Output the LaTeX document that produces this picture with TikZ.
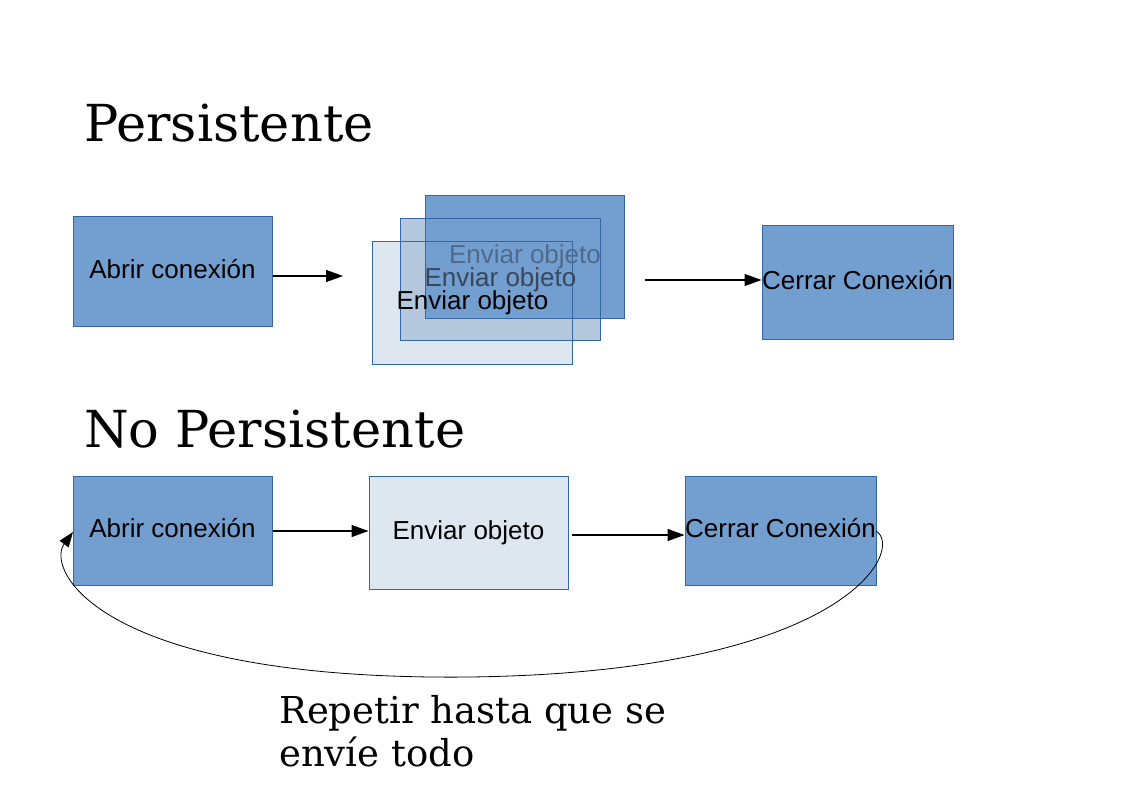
\documentclass[tikz,border=0pt]{standalone}
\usepackage{fontspec}
\setmainfont{Liberation Sans}
\newfontfamily\titlefont{DejaVu Serif}
\usetikzlibrary{arrows.meta}
\definecolor{boxdark}{HTML}{729FCF}
\definecolor{boxmid}{HTML}{B4C7DC}
\definecolor{boxlight}{HTML}{DEE6EF}
\definecolor{boxline}{HTML}{3465A4}
\definecolor{ghostA}{HTML}{51698A}
\definecolor{ghostB}{HTML}{38475B}
\tikzset{
  boxfont/.style={font=\fontsize{26}{30}\selectfont, text height=19pt, text depth=6pt},
  box/.style={draw=boxline, line width=1pt, inner sep=0pt, boxfont},
  darkbox/.style={box, fill=boxdark},
  lightbox/.style={box, fill=boxlight},
  plain/.style={inner sep=0pt, boxfont},
  flow/.style={line width=1.1pt, -{Triangle[length=17pt,width=12pt]}},
  title/.style={font=\titlefont\fontsize{51}{60}\selectfont, anchor=base west, inner sep=0pt},
  note/.style={font=\titlefont\fontsize{37}{43}\selectfont, anchor=north west, inner sep=0pt, align=left},
}
\begin{document}
\begin{tikzpicture}[x=1pt,y=-1pt]
\useasboundingbox[fill=white] (0,0) rectangle (1123,794);

% titles
\node[title] (t1) at (84,142) {Persistente};
\node[title] (t2) at (84,447.5) {No Persistente};

% ---- persistent row
\node[darkbox, minimum width=199pt, minimum height=109pt] (a1) at (172.5,271.5) {Abrir conexi\'on};

\node[box, draw=none, fill=boxlight, minimum width=199pt, minimum height=122pt] (s3) at (472.5,303) {};
\node[box, draw=none, fill=boxmid, minimum width=199pt, minimum height=121pt] (s2) at (500.5,279.5) {};
\node[box, draw=none, fill=boxdark, minimum width=198pt, minimum height=122pt] (s1) at (525,257) {};
\draw[boxline, line width=1pt] (s1.north west) rectangle (s1.south east);
\draw[boxline, line width=1pt] (s2.north west) rectangle (s2.south east);
\draw[boxline, line width=1pt] (s3.north west) rectangle (s3.south east);
\node[plain, text=ghostA] (s1t) at (s1.center) {Enviar objeto};
\node[plain, text=ghostB] (s2t) at (s2.center) {Enviar objeto};
\node[plain] (s3t) at (s3.center) {Enviar objeto};

\node[darkbox, minimum width=191pt, minimum height=113pt] (c1) at (857.5,282.5) {Cerrar Conexi\'on};

\coordinate (p1) at (343,276);
\draw[flow] (a1.east |- p1) -- (p1);
\coordinate (p2a) at (645,280);
\draw[flow] (p2a) -- (c1.west |- p2a) ;

% ---- non persistent row
\node[darkbox, minimum width=199pt, minimum height=109pt] (a2) at (172.5,530.5) {Abrir conexi\'on};
\node[lightbox, minimum width=199pt, minimum height=113pt] (e2) at (468.5,532.5) {Enviar objeto};
\node[darkbox, minimum width=191pt, minimum height=109pt] (c2) at (780.5,530.5) {Cerrar Conexi\'on};

\coordinate (q1) at (273,531);
\draw[flow] (q1) -- (e2.west |- q1);
\coordinate (q2) at (572,535);
\draw[flow] (q2) -- (c2.west |- q2);

% loop back
\coordinate (r0) at (876,531);
\coordinate (r1) at (470,677);
\coordinate (r2) at (73,532);
\draw[line width=0.8pt, -{Triangle[length=15pt,width=11pt]}]
  (r0) .. controls (905,548) and (850,672) .. (r1)
       .. controls (100,681) and (45,570) .. (r2);

\node[note] (n1) at (279,695) {Repetir hasta que se\\env\'ie todo};
\end{tikzpicture}
\end{document}
